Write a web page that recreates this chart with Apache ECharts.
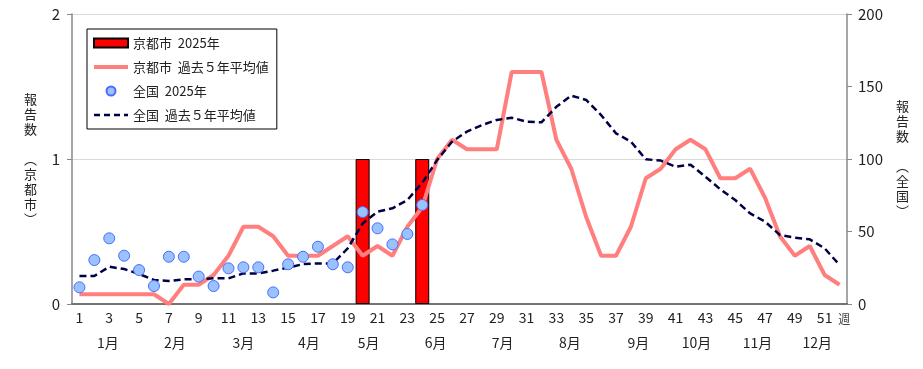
<!DOCTYPE html>
<html>
<head>
<meta charset="utf-8">
<script src="https://cdn.jsdelivr.net/npm/echarts@6/dist/echarts.min.js"></script>
<style>
html,body{margin:0;padding:0;background:#fff;}
#chart{width:923px;height:369px;}
</style>
</head>
<body>
<div id="chart"></div>
<script>
// ---- data ----
const weeks = ['1','2','3','4','5','6','7','8','9','10','11','12','13','14','15','16','17','18','19','20','21','22','23','24','25','26','27','28','29','30','31','32','33','34','35','36','37','38','39','40','41','42','43','44','45','46','47','48','49','50','51','52'];
const kyoto2025 = [0,0,0,0,0,0,0,0,0,0,0,0,0,0,0,0,0,0,0,1,0,0,0,1];
const kyotoAvg5 = [0.067,0.067,0.067,0.067,0.067,0.067,0,0.133,0.133,0.2,0.333,0.533,0.533,0.467,0.333,0.333,0.333,0.4,0.467,0.333,0.4,0.333,0.533,0.667,1.0,1.133,1.067,1.067,1.067,1.6,1.6,1.6,1.133,0.933,0.6,0.333,0.333,0.533,0.867,0.933,1.067,1.133,1.067,0.867,0.867,0.933,0.733,0.467,0.333,0.4,0.2,0.133];
const national2025 = [11.5,30.3,45.3,33.3,23.4,12.4,32.6,32.6,18.9,12.4,24.6,25.3,25.3,8.0,27.4,32.6,39.5,27.4,25.3,63.4,52.2,41.1,48.3,68.3];
const nationalAvg5 = [19.3,19.3,25.7,24.1,20.7,16.6,15.9,17.0,17.0,17.7,17.7,21.1,21.1,23.0,25.1,27.5,28.0,28.0,38.4,55.5,63.7,66.0,71.7,83.5,99.3,112.0,118.9,123.4,126.9,128.5,125.7,125.3,136.0,143.7,140.7,130.3,117.7,112.0,99.8,98.9,94.7,96.1,87.8,79.1,71.7,62.5,56.8,47.6,45.7,44.6,38.4,26.9];
const months = ['1月','2月','3月','4月','5月','6月','7月','8月','9月','10月','11月','12月'];
const monthWeekPos = [2.9,7.4,12.0,16.4,20.4,24.9,29.4,33.9,38.5,42.4,46.5,50.5];
const seriesNames = ['京都市  2025年','京都市  過去５年平均値','全国  2025年','全国  過去５年平均値'];

const JP = "'Noto Sans CJK JP', sans-serif";
const NUM = "'Liberation Sans Narrow', 'Noto Sans CJK JP', sans-serif";

// zero-height bars are not drawn (avoid border strokes on the axis)
const kyoto2025Bars = kyoto2025.map(function(v){ return v === 0 ? null : v; });

const chart = echarts.init(document.getElementById('chart'), null, {renderer:'canvas'});
chart.setOption({
  animation:false,
  backgroundColor:'#fff',
  textStyle:{fontFamily:JP},
  grid:{left:72,right:76,top:14,bottom:65,containLabel:false},
  legend:{
    orient:'vertical', left:87, top:29,
    padding:[7,8,7,5],
    itemWidth:34, itemHeight:9, itemGap:10,
    borderColor:'#000', borderWidth:1, backgroundColor:'#fff',
    textStyle:{fontFamily:JP, fontSize:13, color:'#222', lineHeight:14},
    data:[
      {name:seriesNames[0], icon:'rect'},
      {name:seriesNames[1], itemStyle:{opacity:0}, lineStyle:{width:4, color:'#ff7f7f'}},
      {name:seriesNames[2], icon:'circle'},
      {name:seriesNames[3], itemStyle:{opacity:0}, lineStyle:{width:2.5, color:'#000046', type:[6,4]}}
    ]
  },
  xAxis:[
    {
      type:'category', data:weeks, position:'bottom', boundaryGap:true,
      axisLine:{lineStyle:{color:'#000',width:1.5}},
      axisTick:{show:false},
      axisLabel:{interval:1, margin:7, color:'#222', fontFamily:NUM, fontSize:14},
      name:'週', nameLocation:'end', nameGap:-17,
      nameTextStyle:{fontFamily:JP, fontSize:12, color:'#444', verticalAlign:'top', padding:[9,0,0,0]}
    },
    {
      type:'category', data:weeks, position:'top',
      axisLine:{lineStyle:{color:'#888',width:1.5}},
      axisTick:{show:false}, axisLabel:{show:false}
    },
    {
      type:'value', min:0.5, max:52.5, position:'bottom', offset:26,
      axisLine:{show:false}, axisTick:{show:false}, splitLine:{show:false},
      axisLabel:{
        customValues:monthWeekPos, margin:6, color:'#222', fontFamily:NUM, fontSize:14,
        formatter:function(v){
          let best=0, bd=1e9;
          monthWeekPos.forEach(function(p,i){const d=Math.abs(p-v); if(d<bd){bd=d;best=i;}});
          return months[best];
        }
      }
    }
  ],
  yAxis:[
    {
      type:'value', min:0, max:2, interval:1, position:'left',
      axisLine:{show:true, lineStyle:{color:'#888',width:1.5}},
      axisTick:{show:true, length:5, lineStyle:{color:'#888'}},
      axisLabel:{margin:12, color:'#222', fontFamily:NUM, fontSize:15},
      splitLine:{show:true, lineStyle:{color:'#d9d9d9', width:1}},
      name:'報\n告\n数\n\n︵\n京\n都\n市\n︶', nameLocation:'middle', nameRotate:0, nameGap:35,
      nameTextStyle:{fontFamily:JP, fontSize:13, lineHeight:15, color:'#222'}
    },
    {
      type:'value', min:0, max:200, interval:50, position:'right',
      axisLine:{show:true, lineStyle:{color:'#888',width:1.5}},
      axisTick:{show:true, length:5, lineStyle:{color:'#888'}},
      axisLabel:{margin:11, color:'#222', fontFamily:NUM, fontSize:15},
      splitLine:{show:false},
      name:'報\n告\n数\n\n︵\n全\n国\n︶', nameLocation:'middle', nameRotate:0, nameGap:49,
      nameTextStyle:{fontFamily:JP, fontSize:13, lineHeight:15, color:'#222'}
    }
  ],
  series:[
    {
      name:seriesNames[0], type:'bar', xAxisIndex:0, yAxisIndex:0, data:kyoto2025Bars,
      barWidth:14, z:1,
      itemStyle:{color:'#ff0000', borderColor:'#000', borderWidth:1}
    },
    {
      name:seriesNames[1], type:'line', xAxisIndex:0, yAxisIndex:0, data:kyotoAvg5,
      symbol:'none', showSymbol:false, z:2,
      itemStyle:{color:'#ff7f7f'},
      lineStyle:{color:'#ff7f7f', width:4}
    },
    {
      name:seriesNames[3], type:'line', xAxisIndex:0, yAxisIndex:1, data:nationalAvg5,
      symbol:'none', showSymbol:false, z:3,
      itemStyle:{color:'#000046'},
      lineStyle:{color:'#000046', width:2.5, type:[7,4]}
    },
    {
      name:seriesNames[2], type:'scatter', xAxisIndex:0, yAxisIndex:1, data:national2025,
      symbol:'circle', symbolSize:11, z:4,
      itemStyle:{color:'#99c2ff', borderColor:'#4a6cff', borderWidth:1, opacity:1}
    }
  ]
});
</script>
</body>
</html>
